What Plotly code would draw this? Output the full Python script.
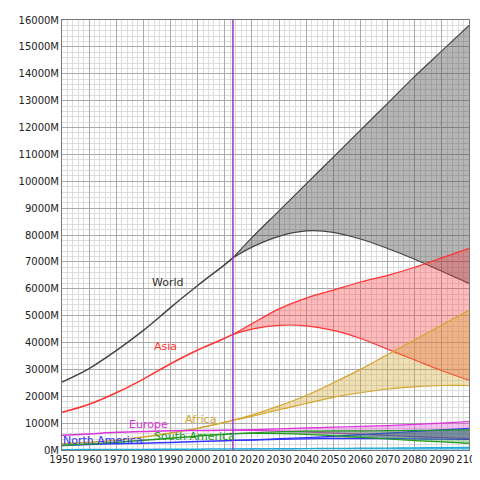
import plotly.graph_objects as go

hist_years = [1950, 1960, 1970, 1980, 1990, 2000, 2010, 2013]
proj_years = [2013, 2020, 2030, 2040, 2050, 2060, 2070, 2080, 2090, 2100]

world_hist = [2530, 3030, 3700, 4450, 5300, 6120, 6900, 7150]
world_high = [7150, 7900, 8900, 9900, 10900, 11900, 12900, 13900, 14850, 15800]
world_low = [7150, 7550, 7950, 8150, 8100, 7850, 7500, 7100, 6650, 6200]

asia_hist = [1400, 1700, 2130, 2640, 3210, 3720, 4160, 4300]
asia_high = [4300, 4700, 5250, 5650, 5950, 6250, 6500, 6800, 7150, 7500]
asia_low = [4300, 4500, 4640, 4620, 4450, 4150, 3750, 3350, 2950, 2600]

africa_hist = [230, 285, 365, 480, 630, 810, 1030, 1110]
africa_high = [1110, 1300, 1640, 2030, 2500, 3000, 3550, 4100, 4650, 5200]
africa_low = [1110, 1250, 1500, 1730, 1960, 2130, 2270, 2350, 2400, 2400]

europe_hist = [550, 600, 660, 690, 720, 725, 735, 740]
europe_high = [740, 760, 790, 820, 850, 880, 910, 950, 1000, 1060]
europe_low = [740, 730, 700, 670, 630, 590, 540, 500, 460, 420]

namer_hist = [170, 205, 230, 255, 280, 315, 345, 355]
namer_high = [355, 380, 420, 460, 510, 570, 630, 690, 750, 810]
namer_low = [355, 370, 395, 415, 425, 425, 420, 410, 400, 390]

samer_hist = [170, 220, 285, 360, 440, 520, 590, 610]
samer_high = [610, 640, 680, 700, 710, 715, 720, 730, 740, 750]
samer_low = [610, 620, 610, 580, 530, 470, 410, 350, 300, 250]

oce_hist = [13, 16, 20, 23, 27, 31, 37, 38]
oce_high = [38, 43, 49, 55, 61, 67, 74, 81, 89, 98]
oce_low = [38, 41, 44, 46, 47, 47, 46, 45, 43, 41]

x_ticks = list(range(1950, 2101, 10))
y_ticks = list(range(0, 16001, 1000))
y_labels = [f"{v}M" for v in y_ticks]

series = [
    ("World", world_hist, world_high, world_low, "#444444", "rgba(60,60,60,0.38)"),
    ("Asia", asia_hist, asia_high, asia_low, "#ff3333", "rgba(255,60,60,0.35)"),
    ("Africa", africa_hist, africa_high, africa_low, "#d4a52e", "rgba(212,165,46,0.35)"),
    ("Europe", europe_hist, europe_high, europe_low, "#dd33dd", "rgba(221,51,221,0.3)"),
    ("North America", namer_hist, namer_high, namer_low, "#3333ff", "rgba(51,51,200,0.4)"),
    ("South America", samer_hist, samer_high, samer_low, "#229922", "rgba(34,153,34,0.35)"),
    ("Oceania", oce_hist, oce_high, oce_low, "#22aadd", "rgba(34,170,221,0.35)"),
]

fig = go.Figure()
for name, h, hi, lo, col, fill in series:
    fig.add_trace(go.Scatter(x=proj_years, y=lo, mode="lines", line=dict(color=col, width=1.2, shape="spline"), showlegend=False))
    fig.add_trace(go.Scatter(x=proj_years, y=hi, mode="lines", line=dict(color=col, width=1.2, shape="spline"),
                             fill="tonexty", fillcolor=fill, showlegend=False))
    fig.add_trace(go.Scatter(x=hist_years, y=h, mode="lines", line=dict(color=col, width=1.5, shape="spline"), showlegend=False))

labels = [
    ("World", 1989, 6250, "#333333"),
    ("Asia", 1988, 3850, "#ff3333"),
    ("Africa", 2001, 1150, "#d4a52e"),
    ("Europe", 1982, 950, "#dd33dd"),
    ("North America", 1965, 370, "#3333ff"),
    ("South America", 1999, 520, "#229922"),
    ("Oceania", 2003, -260, "#22aadd"),
]
for t, x, y, c in labels:
    fig.add_annotation(x=x, y=y, text=t, showarrow=False, font=dict(color=c, size=11))

fig.add_vline(x=2013, line=dict(color="#9933cc", width=1.5))

fig.update_layout(
    width=480, height=480, margin=dict(l=54, r=17, t=6, b=38),
    plot_bgcolor="white", paper_bgcolor="white",
    font=dict(family="DejaVu Sans", size=10, color="#222"),
    xaxis=dict(range=[1950, 2100], tickvals=x_ticks, ticktext=[str(v) for v in x_ticks], tickangle=0,
               showgrid=True, gridcolor="#aaaaaa", gridwidth=1,
               minor=dict(dtick=2, showgrid=True, gridcolor="#dddddd"),
               showline=True, linecolor="#777", mirror=True, zeroline=False, ticks="", tickfont=dict(size=10)),
    yaxis=dict(range=[0, 16000], tickvals=y_ticks, ticktext=y_labels, showgrid=True, gridcolor="#aaaaaa",
               minor=dict(dtick=200, showgrid=True, gridcolor="#dddddd"),
               showline=True, linecolor="#777", mirror=True, zeroline=False, ticks="", tickfont=dict(size=10)),
)
fig.write_html("out.html")
